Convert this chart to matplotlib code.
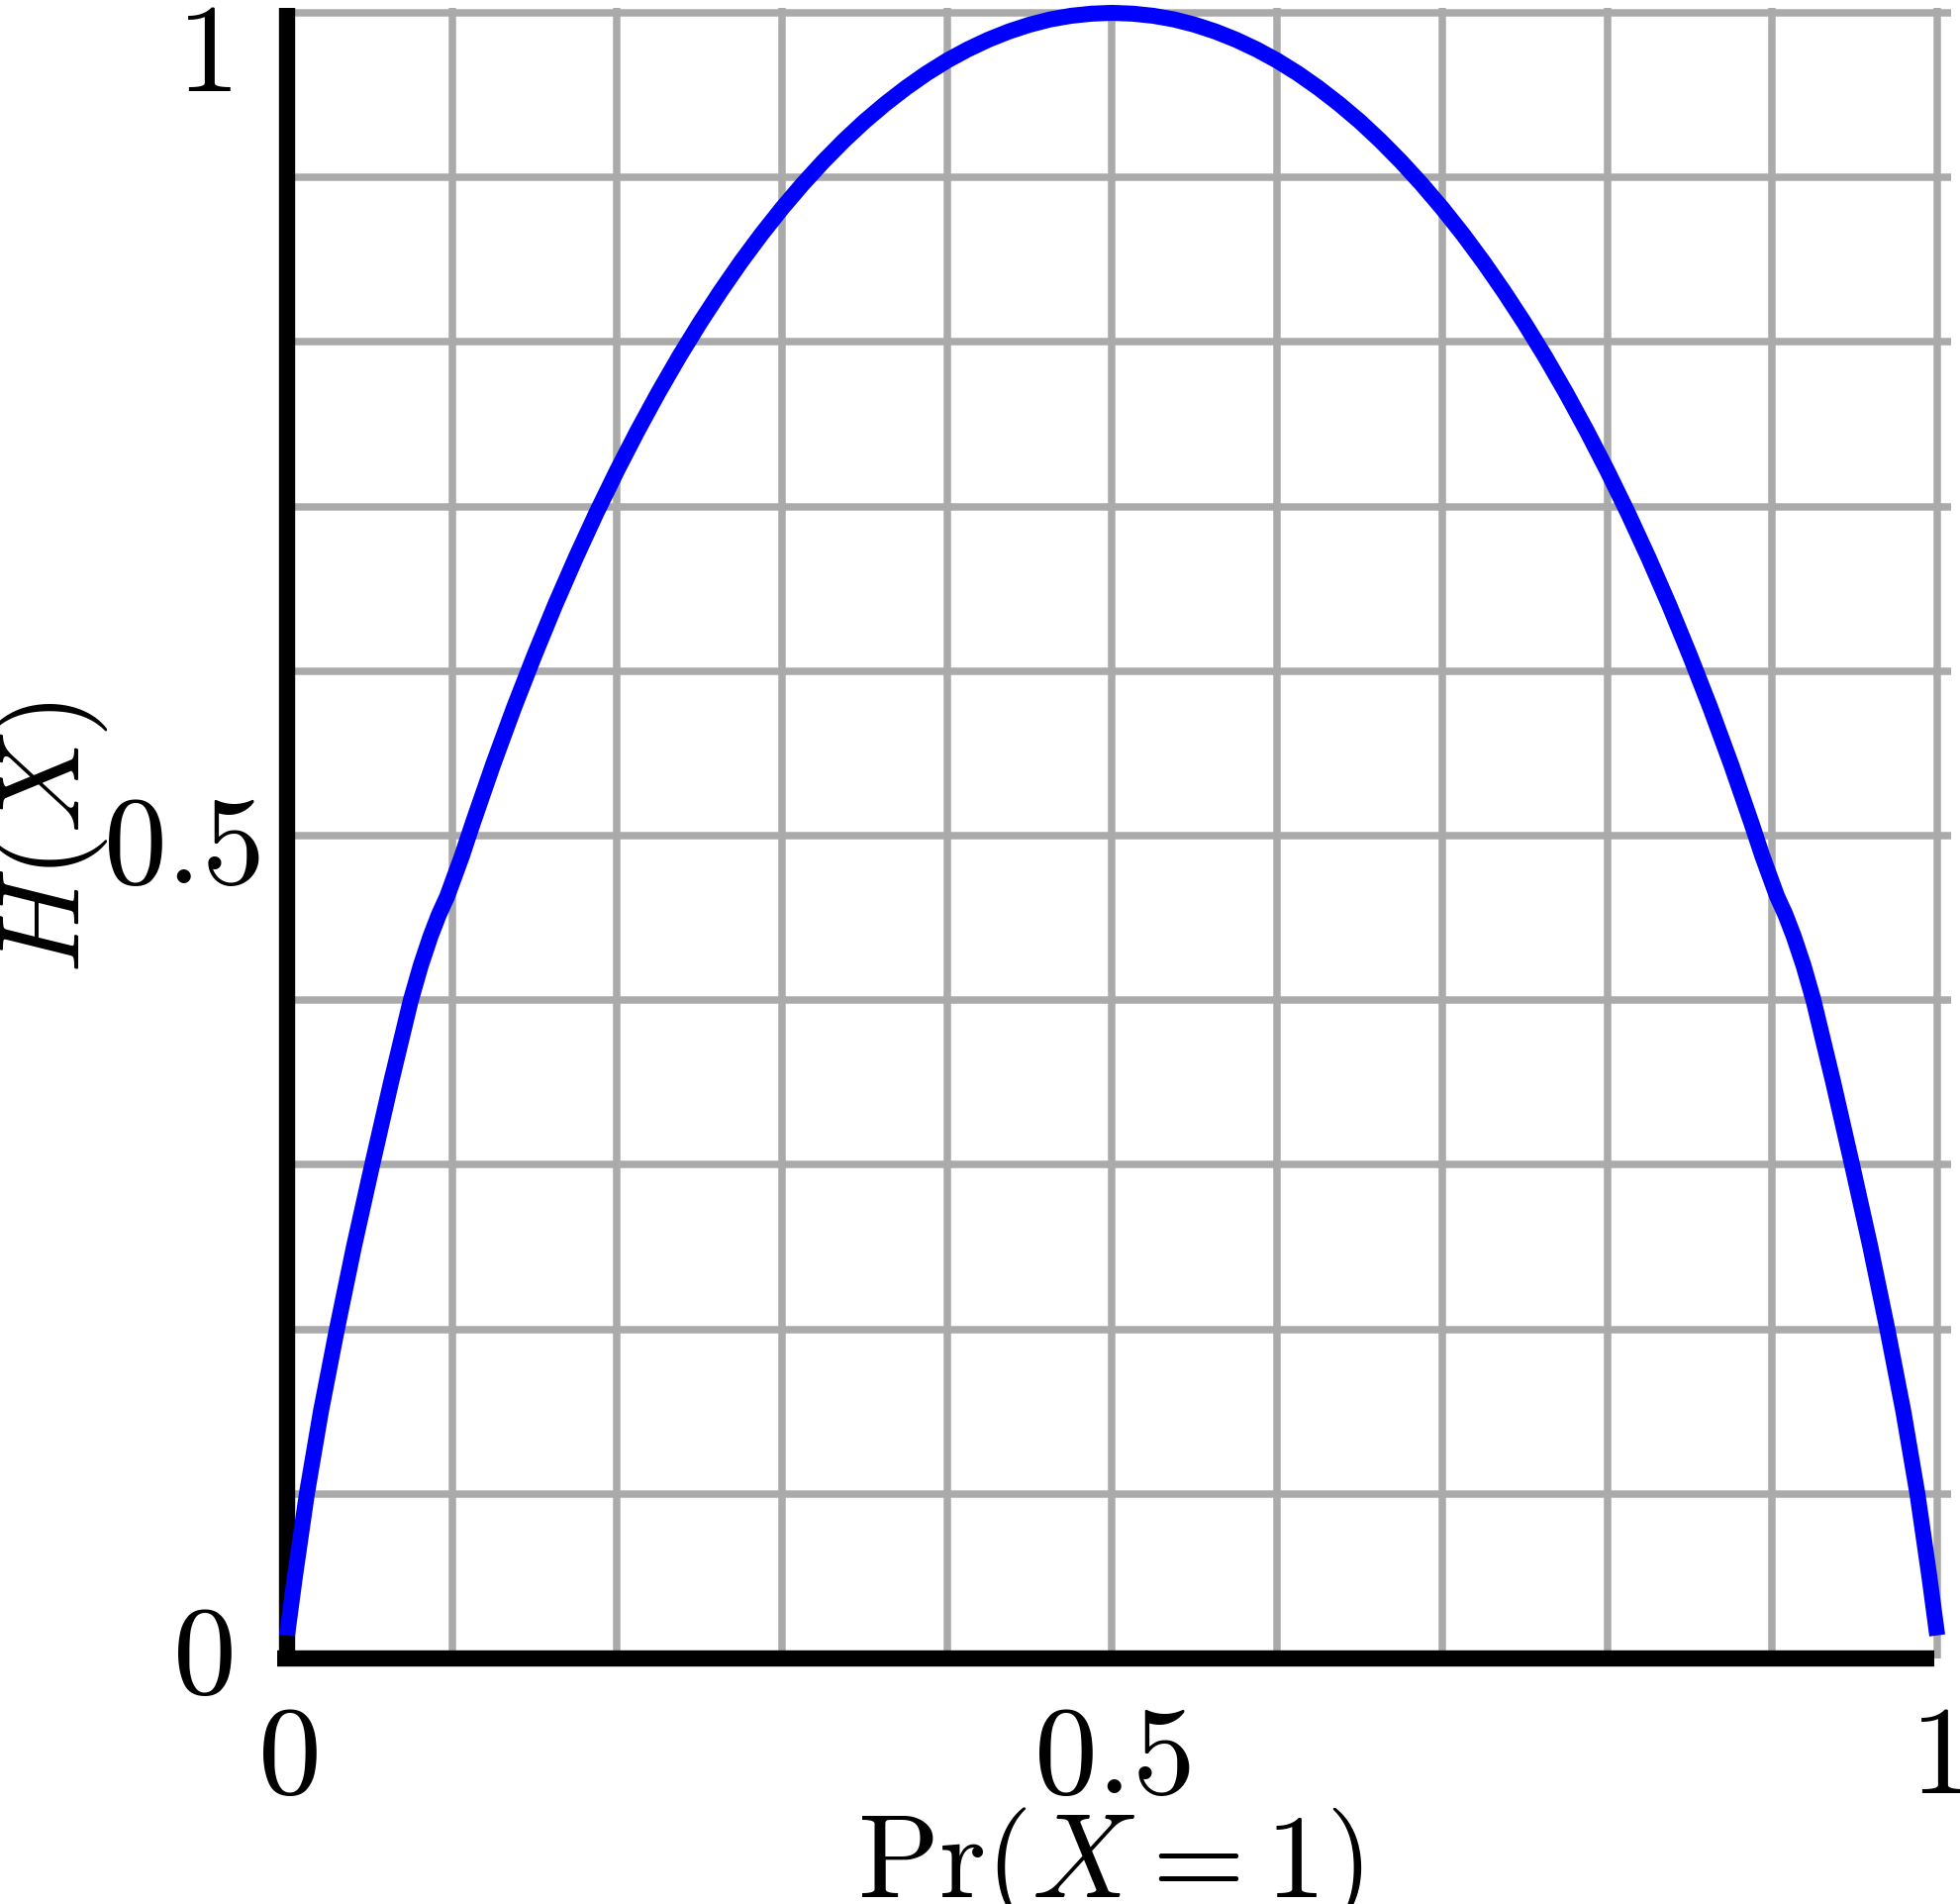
import numpy as np
import matplotlib
matplotlib.use("Agg")
import matplotlib.pyplot as plt

plt.rcParams['mathtext.fontset'] = 'cm'
plt.rcParams['font.family'] = ['DejaVu Serif']

# curve: Pr(X=1) vs H(X)
p = [0.0000, 0.0048, 0.0120, 0.0205, 0.0302, 0.0405, 0.0516, 0.0630, 0.0750, 0.0810,
     0.0870, 0.0920, 0.0970, 0.1060, 0.1125, 0.1250, 0.1375, 0.1500, 0.1625, 0.1750,
     0.1875, 0.2000, 0.2125, 0.2250, 0.2375, 0.2500, 0.2625, 0.2750, 0.2875, 0.3000,
     0.3125, 0.3250, 0.3375, 0.3500, 0.3625, 0.3750, 0.3875, 0.4000, 0.4125, 0.4250,
     0.4375, 0.4500, 0.4625, 0.4750, 0.4875, 0.5000,
     0.5125, 0.5250, 0.5375, 0.5500, 0.5625, 0.5750, 0.5875, 0.6000, 0.6125, 0.6250,
     0.6375, 0.6500, 0.6625, 0.6750, 0.6875, 0.7000, 0.7125, 0.7250, 0.7375, 0.7500,
     0.7625, 0.7750, 0.7875, 0.8000, 0.8125, 0.8250, 0.8375, 0.8500, 0.8625, 0.8750,
     0.8875, 0.8940, 0.9030, 0.9080, 0.9130, 0.9190, 0.9250, 0.9370, 0.9484, 0.9595,
     0.9698, 0.9795, 0.9880, 0.9952, 1.0000]
h = [0.0140, 0.0500, 0.1000, 0.1500, 0.2000, 0.2500, 0.3000, 0.3500, 0.4000, 0.4210,
     0.4390, 0.4520, 0.4630, 0.4877, 0.5074, 0.5436, 0.5777, 0.6098, 0.6403, 0.6690,
     0.6962, 0.7219, 0.7462, 0.7692, 0.7909, 0.8113, 0.8305, 0.8486, 0.8655, 0.8813,
     0.8960, 0.9097, 0.9224, 0.9341, 0.9447, 0.9544, 0.9632, 0.9710, 0.9778, 0.9837,
     0.9887, 0.9928, 0.9960, 0.9982, 0.9995, 1.0000,
     0.9995, 0.9982, 0.9960, 0.9928, 0.9887, 0.9837, 0.9778, 0.9710, 0.9632, 0.9544,
     0.9447, 0.9341, 0.9224, 0.9097, 0.8960, 0.8813, 0.8655, 0.8486, 0.8305, 0.8113,
     0.7909, 0.7692, 0.7462, 0.7219, 0.6962, 0.6690, 0.6403, 0.6098, 0.5777, 0.5436,
     0.5074, 0.4877, 0.4630, 0.4520, 0.4390, 0.4210, 0.4000, 0.3500, 0.3000, 0.2500,
     0.2000, 0.1500, 0.1000, 0.0500, 0.0140]

grid_x = [0.1, 0.2, 0.3, 0.4, 0.5, 0.6, 0.7, 0.8, 0.9, 1.0]
grid_y = [0.1, 0.2, 0.3, 0.4, 0.5, 0.6, 0.7, 0.8, 0.9, 1.0]

xtick_vals = [0, 0.5, 1]
xtick_text = ['$0$', '$0.5$', '$1$']
ytick_vals = [0, 0.5, 1]
ytick_text = ['$0$', '$0.5$', '$1$']

fs = 92

fig = plt.figure(figsize=(19.8, 19.24), dpi=100)
ax = fig.add_axes([0.14646, 0.12890, 0.84192, 0.86383])
ax.set_xlim(0, 1)
ax.set_ylim(0, 1)

# grid drawn by hand so it can run a little past the frame like the original
ax.hlines(grid_y, 0, 1.0084, colors='#aaaaaa', lw=5.4, zorder=1, clip_on=False)
ax.vlines(grid_x, 0, 1.003, colors='#aaaaaa', lw=5.4, zorder=1, clip_on=False)

ax.plot(p, h, color='#0000ff', lw=11.6, solid_capstyle='butt',
        solid_joinstyle='round', clip_on=False, zorder=4)

for s in ['top', 'right']:
    ax.spines[s].set_visible(False)
ax.spines['left'].set_linewidth(11.8)
ax.spines['bottom'].set_linewidth(11.8)
ax.spines['left'].set_bounds(-0.005, 1.003)
ax.spines['bottom'].set_bounds(-0.006, 0.998)
ax.spines['left'].set_capstyle('butt')
ax.spines['bottom'].set_capstyle('butt')
ax.set_xticks([])
ax.set_yticks([])

# tick labels, placed where the original puts them
for v, t in zip(xtick_vals, xtick_text):
    ax.text(v, -0.0602, t, transform=ax.get_xaxis_transform(), fontsize=fs,
            ha='center', va='center')

ypos = [0.0006, 0.4928, 0.974]
yx = [-0.0516, -0.0642, -0.0504]
for v, t, yy, xx in zip(ytick_vals, ytick_text, ypos, yx):
    ax.text(xx, yy, t, transform=ax.transAxes, fontsize=fs,
            ha='center', va='center')

ax.text(0.4985, -0.1444, r'$\mathrm{Pr}(X = 1)$', transform=ax.transAxes,
        fontsize=87, ha='center', va='baseline')
ax.text(-0.1434, 0.4994, r'$H(X)$', transform=ax.transAxes, fontsize=84,
        ha='center', va='center', rotation=90)

fig.savefig('out.png', dpi=100)
